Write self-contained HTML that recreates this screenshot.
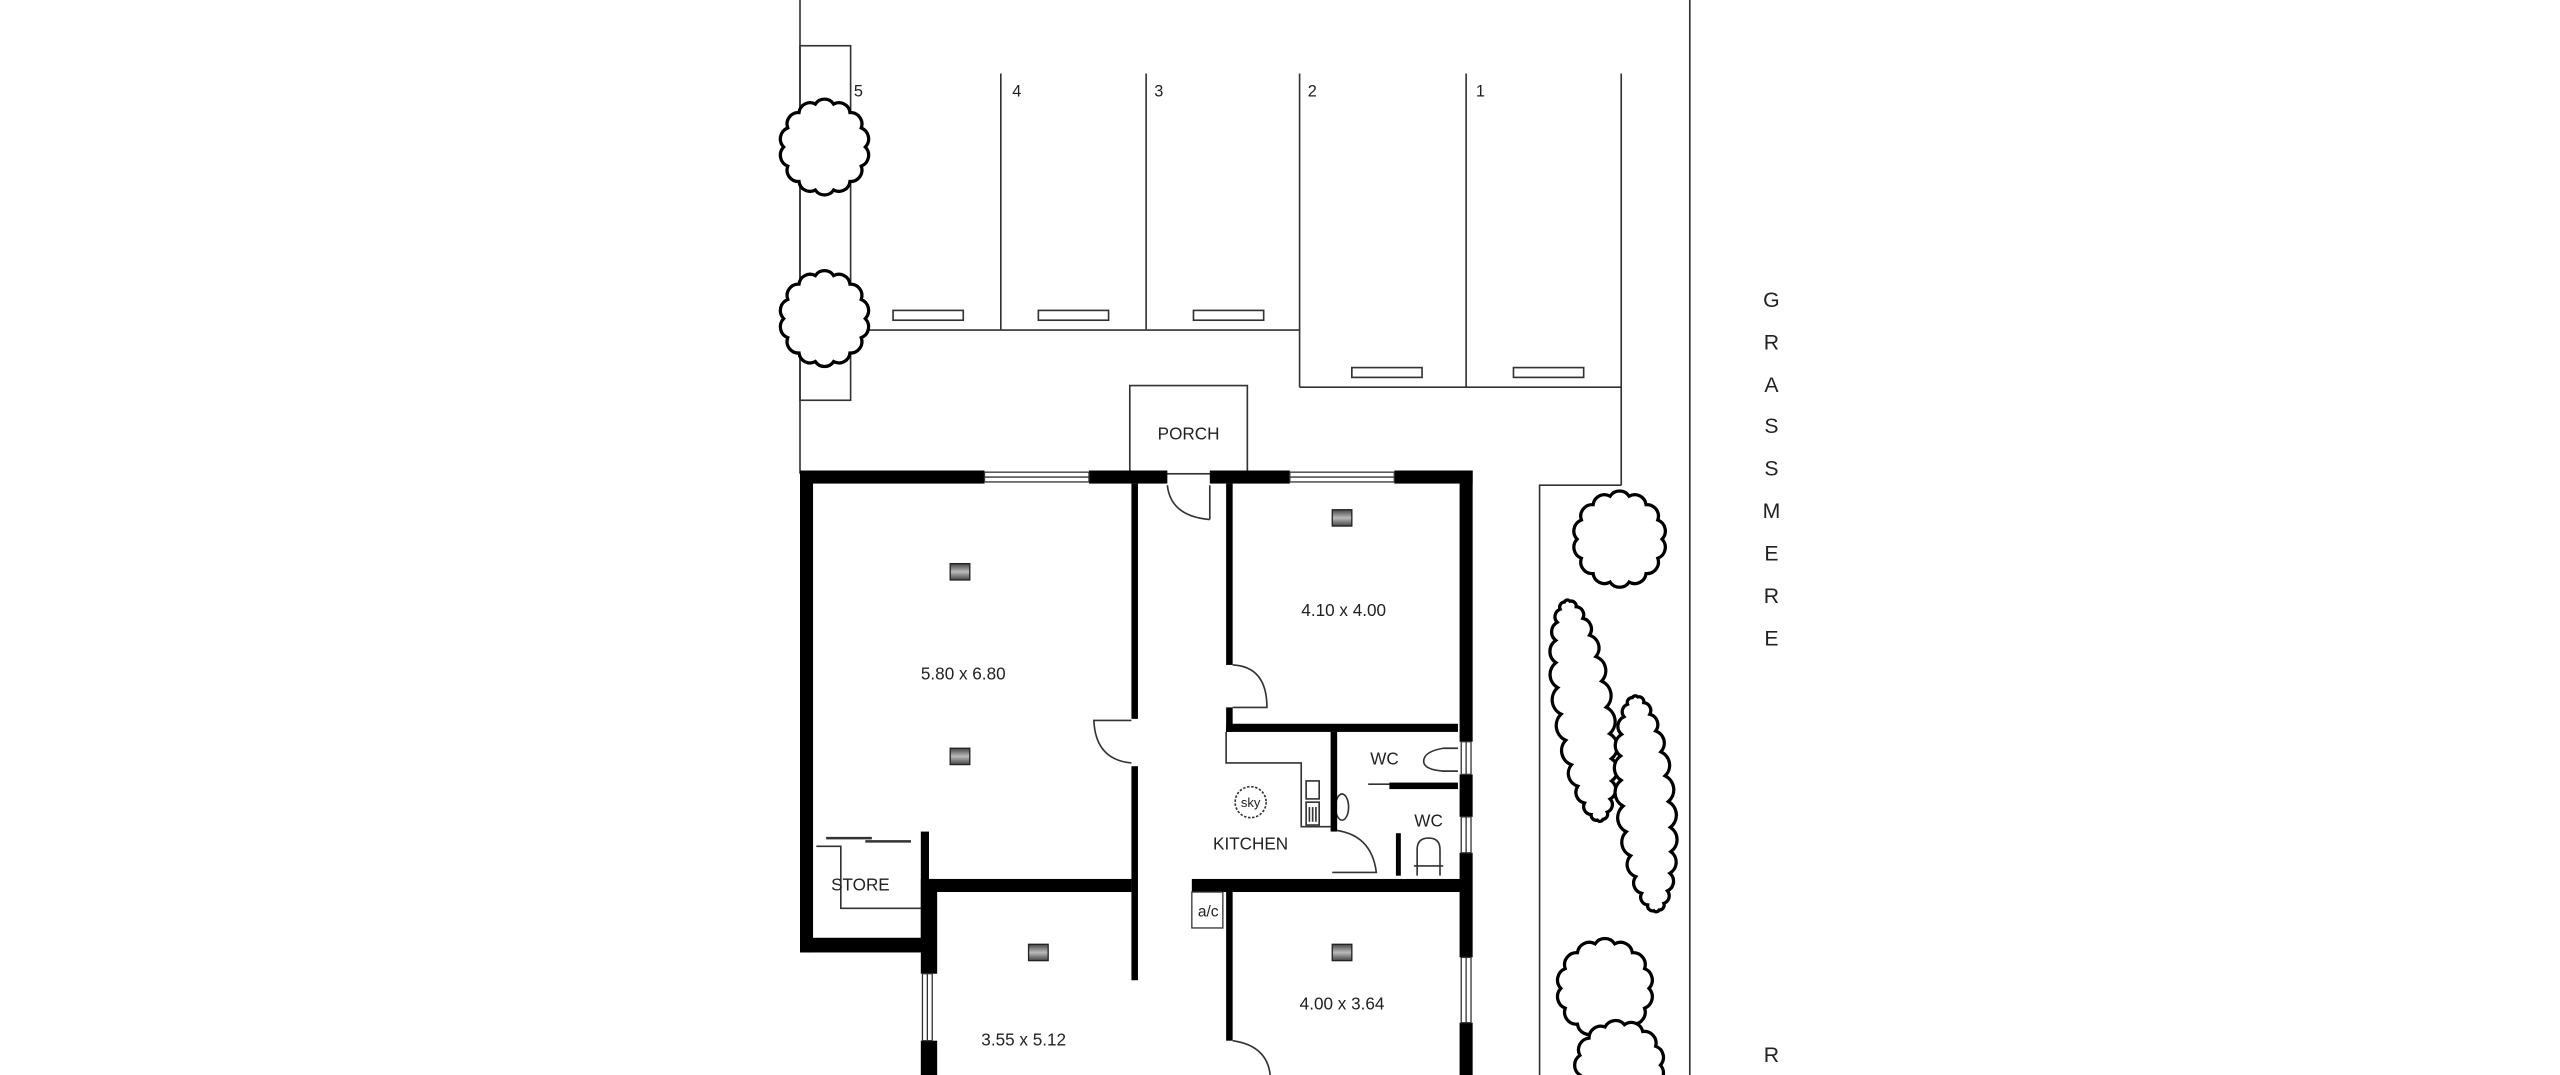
<!DOCTYPE html>
<html><head><meta charset="utf-8"><style>
html,body{margin:0;padding:0;background:#fff;}
svg{display:block;}
text{font-family:"Liberation Sans",sans-serif;fill:#222;}
</style></head><body>
<svg id="s" width="2560" height="1075" viewBox="0 0 1568 658" preserveAspectRatio="none" xmlns="http://www.w3.org/2000/svg">
<defs>
<linearGradient id="vg" x1="0" y1="0" x2="0" y2="1"><stop offset="0" stop-color="#444"/><stop offset="0.5" stop-color="#bbb"/><stop offset="1" stop-color="#444"/></linearGradient>
</defs>
<g fill="none" stroke="#333" stroke-width="1">
<line x1="490" y1="0" x2="490" y2="290"/>
<line x1="1035" y1="0" x2="1035" y2="658"/>
<rect x="490" y="28" width="31" height="217"/>
<line x1="613" y1="45" x2="613" y2="202"/>
<line x1="702" y1="45" x2="702" y2="202"/>
<line x1="796" y1="45" x2="796" y2="237"/>
<line x1="898" y1="45" x2="898" y2="237"/>
<line x1="993" y1="45" x2="993" y2="297"/>
<line x1="521" y1="202" x2="796" y2="202"/>
<line x1="796" y1="237" x2="993" y2="237"/>
<polyline points="993,297 943,297 943,658"/>
<rect x="547" y="190" width="43" height="6"/>
<rect x="636" y="190" width="43" height="6"/>
<rect x="731" y="190" width="43" height="6"/>
<rect x="828" y="225" width="43" height="6"/>
<rect x="927" y="225" width="43" height="6"/>
<rect x="692" y="236" width="72" height="54"/>
<polyline points="751,448 751,467 797,467 797,506 815,506"/>
<rect x="800" y="478" width="8" height="11"/>
<rect x="800" y="491" width="8" height="14"/>
<line x1="802" y1="494" x2="802" y2="503"/><line x1="804" y1="494" x2="804" y2="503"/><line x1="806" y1="494" x2="806" y2="503"/>
<ellipse cx="822" cy="494" rx="4" ry="8"/>
<circle cx="766" cy="491" r="9.5" stroke-dasharray="1.5 1"/>
<polyline points="500,518 515,518 515,556 564,556"/>
<line x1="506" y1="513" x2="534" y2="513" stroke-width="1.5"/>
<line x1="530" y1="515" x2="558" y2="515" stroke-width="1.5"/>
<path d="M715,297 Q717,316 741,318 M741,297 L741,318"/>
<path d="M693,441 L670,441 Q671,465 693,467"/>
<path d="M755,407 Q776,408 776,433 L755,433"/>
<path d="M816,508 Q840,510 843,534 L816,534"/>
<path d="M755,637 Q776,640 778,658"/>
<line x1="838" y1="480" x2="851" y2="480"/>
<path d="M893,458 L884,458 Q872,460 872,466 Q872,471 884,472 L893,472"/>
<path d="M868,536 L868,520 Q868,513 875,513 Q882,513 882,520 L882,536"/>
<line x1="866" y1="530" x2="884" y2="530"/>
</g>
<g fill="#000">
<rect x="490" y="288" width="113" height="8"/>
<rect x="667" y="288" width="48" height="8"/>
<rect x="741" y="288" width="49" height="8"/>
<rect x="854" y="288" width="48" height="8"/>
<rect x="490" y="288" width="8" height="295"/>
<rect x="490" y="574" width="80" height="9"/>
<rect x="564" y="509" width="5" height="74"/>
<rect x="564" y="538" width="10" height="58"/>
<rect x="564" y="637" width="10" height="21"/>
<rect x="567" y="538" width="126" height="8"/>
<rect x="693" y="296" width="4" height="144"/>
<rect x="693" y="469" width="4" height="131"/>
<rect x="751" y="296" width="4" height="111"/>
<rect x="751" y="433" width="4" height="15"/>
<rect x="751" y="443" width="142" height="5"/>
<rect x="815" y="448" width="4" height="61"/>
<rect x="851" y="479" width="42" height="4"/>
<rect x="855" y="510" width="3" height="26"/>
<rect x="730" y="538" width="165" height="8"/>
<rect x="751" y="546" width="4" height="91"/>
<rect x="894" y="288" width="8" height="166"/>
<rect x="894" y="474" width="8" height="26"/>
<rect x="894" y="522" width="8" height="64"/>
<rect x="894" y="626" width="8" height="32"/>
</g>
<g fill="#fff" stroke="#333" stroke-width="0.8">
<rect x="603" y="289" width="64" height="6"/><line x1="603" y1="292" x2="667" y2="292"/>
<rect x="790" y="289" width="64" height="6"/><line x1="790" y1="292" x2="854" y2="292"/>
<rect x="895" y="454" width="6" height="20"/><line x1="898" y1="454" x2="898" y2="474"/>
<rect x="895" y="500" width="6" height="22"/><line x1="898" y1="500" x2="898" y2="522"/>
<rect x="895" y="586" width="6" height="40"/><line x1="898" y1="586" x2="898" y2="626"/>
<rect x="565" y="596" width="6" height="41"/><line x1="568" y1="596" x2="568" y2="637"/>
<rect x="730" y="546" width="19" height="22"/>
</g>
<g fill="url(#vg)" stroke="#222" stroke-width="0.8">
<rect x="582" y="345" width="12" height="10"/>
<rect x="582" y="458" width="12" height="10"/>
<rect x="816" y="312" width="12" height="10"/>
<rect x="630" y="578" width="12" height="10"/>
<rect x="816" y="578" width="12" height="10"/>
</g>
<g id="trees" fill="#fff" stroke="#000" stroke-width="2"></g>
<g font-size="10.5" text-anchor="middle">
<text x="728" y="269">PORCH</text>
<text x="590" y="416">5.80 x 6.80</text>
<text x="823" y="377">4.10 x 4.00</text>
<text x="848" y="468">WC</text>
<text x="875" y="506">WC</text>
<text x="766" y="520">KITCHEN</text>
<text x="527" y="545">STORE</text>
<text x="740" y="561" font-size="9.5">a/c</text>
<text x="766" y="494" font-size="8">sky</text>
<text x="822" y="618">4.00 x 3.64</text>
<text x="627" y="640">3.55 x 5.12</text>
</g>
<g font-size="10">
<text x="523" y="59">5</text><text x="620" y="59">4</text><text x="707" y="59">3</text><text x="801" y="59">2</text><text x="904" y="59">1</text>
</g>
<g font-size="13" text-anchor="middle" fill="#222">
<text x="1085" y="188">G</text><text x="1085" y="214">R</text><text x="1085" y="240">A</text><text x="1085" y="265">S</text><text x="1085" y="291">S</text><text x="1085" y="317">M</text><text x="1085" y="343">E</text><text x="1085" y="369">R</text><text x="1085" y="395">E</text>
<text x="1085" y="650">R</text>
</g>
</svg>
<script>
function cloud(cx,cy,rx,ry,n,rot){
  var pts=[];
  for(var i=0;i<n;i++){var a=i/n*2*Math.PI;var x=rx*Math.cos(a),y=ry*Math.sin(a);
    var c=Math.cos(rot),s=Math.sin(rot);pts.push([cx+x*c-y*s,cy+x*s+y*c]);}
  var d="M"+pts[0][0].toFixed(1)+","+pts[0][1].toFixed(1);
  for(var i=1;i<=n;i++){var p=pts[i%n],q=pts[i-1];var r=Math.hypot(p[0]-q[0],p[1]-q[1])*0.6;d+=" A"+r.toFixed(1)+","+r.toFixed(1)+" 0 0,1 "+p[0].toFixed(1)+","+p[1].toFixed(1);}
  return d+"Z";
}
var g=document.getElementById("trees"),T=[[505,90,25,27,14,0],[505,195,25,27,14,0],[992,330,26,27,14,0],[983,605,27,28,14,0],[992,652,25,25,13,0],[970,435,14,68,26,-0.15],[1008,492,14,66,26,-0.1]];
T.forEach(function(t){var p=document.createElementNS("http://www.w3.org/2000/svg","path");p.setAttribute("d",cloud.apply(null,t));g.appendChild(p);});
</script>
</body></html>
